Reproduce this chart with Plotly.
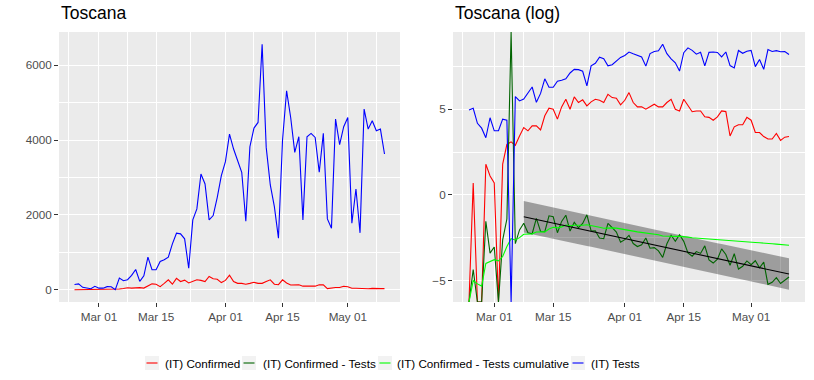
import numpy as np
import pandas as pd
import plotly.graph_objects as go

# ---------------- data ----------------
start_date = "2020-02-24"
end_date = "2020-05-10"
fit_start = "2020-03-08"

confirmed = [0, 2, 0, 0, 6, 3, 2, 0, 6, 19,
             22, 18, 31, 51, 42, 56, 56, 44, 101, 157,
             148, 83, 170, 265, 148, 304, 219, 256, 180, 227,
             265, 250, 219, 354, 292, 281, 191, 250, 391, 219,
             170, 170, 148, 170, 198, 170, 170, 219, 265, 148,
             134, 265, 180, 128, 134, 134, 95, 92, 78, 95,
             134, 129, 31, 53, 60, 60, 92, 78, 38, 38,
             30, 26, 26, 36, 24, 29, 30]

tests = [141, 156, 65, 49, 28, 90, 42, 42, 83, 78,
         0, 311, 240, 267, 382, 542, 222, 373, 871, 533,
         533, 756, 800, 871, 1227, 1511, 1493, 1360, 578, 1867,
         2160, 3093, 2827, 1867, 1982, 2471, 3049, 3422, 4160, 3760,
         3467, 3138, 1831, 3822, 4320, 4471, 6560, 3804, 2800, 2222,
         1378, 4000, 5316, 4604, 3671, 4089, 1867, 4089, 4178, 4071,
         3138, 4178, 1893, 1644, 4560, 3876, 4356, 4604, 1778, 2693,
         1520, 4827, 4293, 4516, 4249, 4293, 3627]

x_breaks = ["2020-03-01", "2020-03-15", "2020-04-01", "2020-04-15", "2020-05-01"]
x_labels = ["Mar 01", "Mar 15", "Apr 01", "Apr 15", "May 01"]
x_minor = ["2020-02-22 12:00", "2020-03-08", "2020-03-23 12:00",
           "2020-04-08", "2020-04-23", "2020-05-08"]
y_breaks_left = [0, 2000, 4000, 6000]
y_minor_left = [1000, 3000, 5000]
y_breaks_right = [-5, 0, 5]
y_minor_right = [-2.5, 2.5, 7.5]

series_names = ["(IT) Confirmed", "(IT) Confirmed - Tests",
                "(IT) Confirmed - Tests cumulative", "(IT) Tests"]
series_colors = ["#FF0000", "#006400", "#00FF00", "#0000FF"]

# ---------------- derived ----------------
dates = pd.date_range(start_date, end_date, freq="D")
conf = np.array(confirmed, dtype=float)
tst = np.array(tests, dtype=float)
with np.errstate(divide="ignore", invalid="ignore"):
    log_conf = np.log(conf)
    log_tests = np.log(tst)
    log_diff = log_conf - log_tests
    log_cum = np.log(np.cumsum(conf)) - np.log(np.cumsum(tst))

# regression on log ratio from fit_start
day = np.arange(len(dates), dtype=float)
mask = dates >= pd.Timestamp(fit_start)
xf, yf = day[mask], log_diff[mask]
b1, b0 = np.polyfit(xf, yf, 1)
pred = b0 + b1 * xf
n = len(xf)
s = np.sqrt(np.sum((yf - pred) ** 2) / (n - 2))
t_q = 1.999
sxx = np.sum((xf - xf.mean()) ** 2)
half = t_q * s * np.sqrt(1 + 1 / n + (xf - xf.mean()) ** 2 / sxx)
upper, lower = pred + half, pred - half
fit_dates = dates[mask]

# axis ranges (ggplot-like 5% expansion)
span = dates[-1] - dates[0]
x_range = [dates[0] - 0.05 * span, dates[-1] + 0.05 * span]
lmax = max(conf.max(), tst.max()); lmin = min(conf.min(), tst.min())
y_range_left = [lmin - 0.05 * (lmax - lmin), lmax + 0.05 * (lmax - lmin)]
allvals = np.concatenate([log_conf, log_tests, log_diff, log_cum, upper, lower])
finite = allvals[np.isfinite(allvals)]
rmin, rmax = finite.min(), finite.max()
y_range_right = [rmin - 0.05 * (rmax - rmin), rmax + 0.05 * (rmax - rmin)]


def squash(v):
    return np.where(np.isposinf(v), y_range_right[1],
                    np.where(np.isneginf(v), y_range_right[0], v))


# ---------------- figure ----------------
FONT = "Liberation Sans, Arial, sans-serif"
W, H = 814, 380
fig = go.Figure()

# left panel
fig.add_trace(go.Scatter(x=dates, y=conf, mode="lines", line=dict(color=series_colors[0], width=1.1),
                         xaxis="x", yaxis="y", showlegend=False))
fig.add_trace(go.Scatter(x=dates, y=tst, mode="lines", line=dict(color=series_colors[3], width=1.1),
                         xaxis="x", yaxis="y", showlegend=False))

# right panel: ribbon
fig.add_trace(go.Scatter(x=list(fit_dates) + list(fit_dates[::-1]),
                         y=list(upper) + list(lower[::-1]),
                         fill="toself", fillcolor="rgba(0,0,0,0.33)", line=dict(width=0),
                         mode="lines", xaxis="x2", yaxis="y2", showlegend=False, hoverinfo="skip"))
right_series = [log_conf, log_diff, log_cum, log_tests]
for vals, col in zip(right_series, series_colors):
    fig.add_trace(go.Scatter(x=dates, y=squash(vals), mode="lines",
                             line=dict(color=col, width=1.1),
                             xaxis="x2", yaxis="y2", showlegend=False))
fig.add_trace(go.Scatter(x=fit_dates, y=pred, mode="lines", line=dict(color="black", width=1.1),
                         xaxis="x2", yaxis="y2", showlegend=False))

tickfont = dict(family=FONT, size=11.7, color="#4D4D4D")
common = dict(showline=False, zeroline=False, ticks="outside", ticklen=4, tickwidth=1.07,
              tickcolor="#333333", showgrid=True, gridcolor="white", gridwidth=1.1,
              tickfont=tickfont)

xcommon = dict(common, type="date", range=x_range, tickmode="array", tickvals=x_breaks,
               ticktext=x_labels,
               minor=dict(tickmode="array", tickvals=x_minor, showgrid=True,
                          gridcolor="white", gridwidth=0.55, ticks=""))

y_dom = [(H - 302) / H, (H - 32) / H]
fig.update_layout(
    width=W, height=H,
    margin=dict(l=0, r=0, t=0, b=0),
    paper_bgcolor="white", plot_bgcolor="#EBEBEB",
    font=dict(family=FONT),
    xaxis=dict(xcommon, domain=[59 / W, 400 / W], anchor="y"),
    xaxis2=dict(xcommon, domain=[453 / W, 805 / W], anchor="y2"),
    yaxis=dict(common, domain=y_dom, anchor="x", range=y_range_left, tickmode="array",
               tickvals=y_breaks_left, ticktext=[str(v) for v in y_breaks_left],
               minor=dict(tickmode="array", tickvals=y_minor_left, showgrid=True,
                          gridcolor="white", gridwidth=0.55, ticks="")),
    yaxis2=dict(common, domain=y_dom, anchor="x2", range=y_range_right, tickmode="array",
                tickvals=y_breaks_right,
                ticktext=[("\u2212" + str(-v)) if v < 0 else str(v) for v in y_breaks_right],
                minor=dict(tickmode="array", tickvals=y_minor_right, showgrid=True,
                           gridcolor="white", gridwidth=0.55, ticks="")),
)

# panel titles
for text, px in [("Toscana", 59), ("Toscana (log)", 453)]:
    fig.add_annotation(text=text, x=px / W, y=1 - 25 / H, xref="paper", yref="paper",
                       xanchor="left", yanchor="bottom", showarrow=False,
                       font=dict(family=FONT, size=17.5, color="black"))

# custom legend (ggplot style keys)
key_x = [145, 242, 378, 571]
text_x = [163, 260.5, 395, 589]
ly = 363
ks = 14
for name, col, kx, tx in zip(series_names, series_colors, key_x, text_x):
    fig.add_shape(type="rect", xref="paper", yref="paper",
                  x0=kx / W, x1=(kx + ks) / W, y0=1 - (ly + ks / 2) / H, y1=1 - (ly - ks / 2) / H,
                  fillcolor="#F2F2F2", line=dict(width=0), layer="below")
    fig.add_shape(type="line", xref="paper", yref="paper",
                  x0=(kx + 1.5) / W, x1=(kx + ks - 1.5) / W, y0=1 - ly / H, y1=1 - ly / H,
                  line=dict(color=col, width=1.1))
    fig.add_annotation(text=name, x=tx / W, y=1 - ly / H, xref="paper", yref="paper",
                       xanchor="left", yanchor="middle", showarrow=False,
                       font=dict(family=FONT, size=11.7, color="black"))

fig.write_html("out.html", config={"displayModeBar": False},
               post_script="document.body.style.margin='0';")
